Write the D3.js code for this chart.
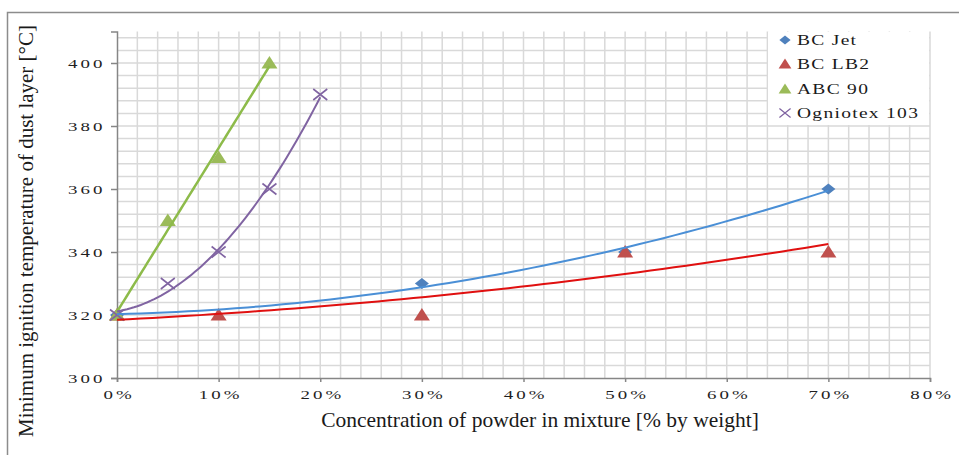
<!DOCTYPE html>
<html>
<head>
<meta charset="utf-8">
<script src="https://cdn.jsdelivr.net/npm/d3@7"></script>
<style>
  body { margin: 0; background: #fff; }
  svg { display: block; }
</style>
</head>
<body>
<svg id="chart" width="959" height="455"></svg>
<script>
// values
var seriesNames = ["BC Jet", "BC LB2", "ABC 90", "Ogniotex 103"];
var jetX = [0, 0.3, 0.5, 0.7];
var jetY = [320, 330, 340, 360];
var lb2X = [0, 0.1, 0.3, 0.5, 0.7];
var lb2Y = [320, 320, 320, 340, 340];
var abcX = [0, 0.05, 0.1, 0.15];
var abcY = [320, 350, 370, 400];
var ognX = [0, 0.05, 0.1, 0.15, 0.2];
var ognY = [320, 330, 340, 360, 390];
var xTicks = [0, 0.1, 0.2, 0.3, 0.4, 0.5, 0.6, 0.7, 0.8];
var yTicks = [300, 320, 340, 360, 380, 400];

var svg = d3.select("#chart");
var x = d3.scaleLinear().domain([0, 0.8]).range([117, 930]);
var y = d3.scaleLinear().domain([300, 410]).range([378, 31.5]);

var SERIF = "Liberation Serif";
var tickScale = 1.4, tickSpace = 2.2;

// frame (top + left only)
svg.append("path")
  .attr("d", "M7.5,455 V12.5 H959")
  .attr("fill", "none")
  .attr("stroke", "#8c8c8c")
  .attr("stroke-width", 1.5);

// gridlines
var grid = svg.append("g");
grid.selectAll("line.v")
  .data(d3.range(1, 41).map(function (i) { return i * 0.02; }))
  .enter().append("line")
  .attr("x1", function (d) { return x(d); })
  .attr("x2", function (d) { return x(d); })
  .attr("y1", y(410)).attr("y2", y(300))
  .attr("stroke", "#d9d9d9").attr("stroke-width", 1.5);
grid.selectAll("line.h")
  .data(d3.range(1, 28).map(function (i) { return 300 + i * 4; }))
  .enter().append("line")
  .attr("y1", function (d) { return y(d); })
  .attr("y2", function (d) { return y(d); })
  .attr("x1", x(0)).attr("x2", x(0.8))
  .attr("stroke", "#d9d9d9").attr("stroke-width", 1.5);

// axes
var xAxis = svg.append("g")
  .attr("transform", "translate(0," + y(300) + ")")
  .call(d3.axisBottom(x).tickValues(xTicks).tickSize(4).tickFormat(d3.format(".0%")));
var yAxis = svg.append("g")
  .attr("transform", "translate(" + x(0) + ",0)")
  .call(d3.axisLeft(y).tickValues(yTicks).tickSize(6).tickFormat(d3.format("d")));
[xAxis, yAxis].forEach(function (a) {
  a.select(".domain").attr("stroke", "#868686").attr("stroke-width", 1.5);
  a.selectAll(".tick line").attr("stroke", "#868686").attr("stroke-width", 1.5);
  a.selectAll("text")
    .attr("font-family", SERIF)
    .attr("font-size", 13.5)
    .attr("letter-spacing", tickSpace)
    .attr("fill", "#1f1f1f")
    .attr("transform", "scale(" + tickScale + ",1)");
});
xAxis.selectAll("text")
  .attr("y", 21.5).attr("dy", 0)
  .attr("x", tickSpace / 2);
yAxis.selectAll("text")
  .attr("x", -14.6 / tickScale + tickSpace)
  .attr("dy", "0.33em");

// quadratic least-squares fit (Excel polynomial trendline, order 2)
function fitQuad(xs, ys) {
  var s = [0, 0, 0, 0, 0], t = [0, 0, 0];
  xs.forEach(function (xv, i) {
    var p = 1;
    for (var k = 0; k < 5; k++) { s[k] += p; if (k < 3) t[k] += p * ys[i]; p *= xv; }
  });
  var m = [[s[0], s[1], s[2], t[0]], [s[1], s[2], s[3], t[1]], [s[2], s[3], s[4], t[2]]];
  for (var c = 0; c < 3; c++) {
    for (var r = c + 1; r < 3; r++) {
      var f = m[r][c] / m[c][c];
      for (var k = c; k < 4; k++) m[r][k] -= f * m[c][k];
    }
  }
  var coef = [0, 0, 0];
  for (var r = 2; r >= 0; r--) {
    var v = m[r][3];
    for (var k = r + 1; k < 3; k++) v -= m[r][k] * coef[k];
    coef[r] = v / m[r][r];
  }
  return function (xv) { return coef[0] + coef[1] * xv + coef[2] * xv * xv; };
}

var series = [
  { name: seriesNames[0], xs: jetX, ys: jetY, marker: "diamond", fill: "#4f81bd", line: "#4a8fd6", lw: 2 },
  { name: seriesNames[1], xs: lb2X, ys: lb2Y, marker: "triangle", fill: "#c0504d", line: "#e01010", lw: 2 },
  { name: seriesNames[2], xs: abcX, ys: abcY, marker: "triangle", fill: "#9bbb59", line: "#8dbb4a", lw: 2.5 },
  { name: seriesNames[3], xs: ognX, ys: ognY, marker: "cross", fill: "#8064a2", line: "#8064a2", lw: 2 }
];

function markerPath(type) {
  if (type === "diamond") return "M0,-5.5 L7,0 L0,5.5 L-7,0 Z";
  if (type === "triangle") return "M0,-7 L8,5.5 L-8,5.5 Z";
  return "M-7,-5.5 L7,5.5 M-7,5.5 L7,-5.5";
}
function drawMarker(g, s) {
  var p = g.append("path").attr("d", markerPath(s.marker));
  if (s.marker === "cross") p.attr("fill", "none").attr("stroke", s.fill).attr("stroke-width", 1.6);
  else p.attr("fill", s.fill);
  return p;
}

var marks = svg.append("g");
series.forEach(function (s) {
  s.xs.forEach(function (xv, i) {
    var g = marks.append("g").attr("transform", "translate(" + x(xv) + "," + y(s.ys[i]) + ")");
    drawMarker(g, s);
  });
});

// trendlines
var lineGen = d3.line()
  .x(function (d) { return x(d[0]); })
  .y(function (d) { return y(d[1]); });
series.forEach(function (s) {
  var pct = s.xs.map(function (v) { return v * 100; });
  var f = fitQuad(pct, s.ys);
  var lo = d3.min(pct), hi = d3.max(pct);
  var pts = d3.range(0, 61).map(function (i) {
    var xv = lo + (hi - lo) * i / 60;
    return [xv / 100, f(xv)];
  });
  svg.append("path")
    .attr("d", lineGen(pts))
    .attr("fill", "none")
    .attr("stroke", s.line)
    .attr("stroke-width", s.lw);
});

// legend
var legend = svg.append("g");
legend.append("rect")
  .attr("x", 768).attr("y", 32).attr("width", 161).attr("height", 93)
  .attr("fill", "#fff");
var legendY = [40, 64, 89, 113];
series.forEach(function (s, i) {
  var g = legend.append("g").attr("transform", "translate(0," + legendY[i] + ")");
  var mg = g.append("g").attr("transform", "translate(785,0) scale(0.8)");
  drawMarker(mg, s);
  g.append("text")
    .attr("transform", "translate(797,0) scale(1.3,1)")
    .attr("dy", "0.35em")
    .attr("font-family", SERIF)
    .attr("font-size", 15)
    .attr("letter-spacing", 1)
    .attr("fill", "#1a1a1a")
    .text(s.name);
});

// axis titles
svg.append("text")
  .attr("x", 540).attr("y", 427)
  .attr("text-anchor", "middle")
  .attr("font-family", SERIF)
  .attr("font-size", 21.5)
  .attr("fill", "#1a1a1a")
  .text("Concentration of powder in mixture [% by weight]");
svg.append("text")
  .attr("transform", "translate(33,231) rotate(-90)")
  .attr("text-anchor", "middle")
  .attr("font-family", SERIF)
  .attr("font-size", 21)
  .attr("fill", "#1a1a1a")
  .text("Minimum ignition temperature of dust layer [°C]");
</script>
</body>
</html>
